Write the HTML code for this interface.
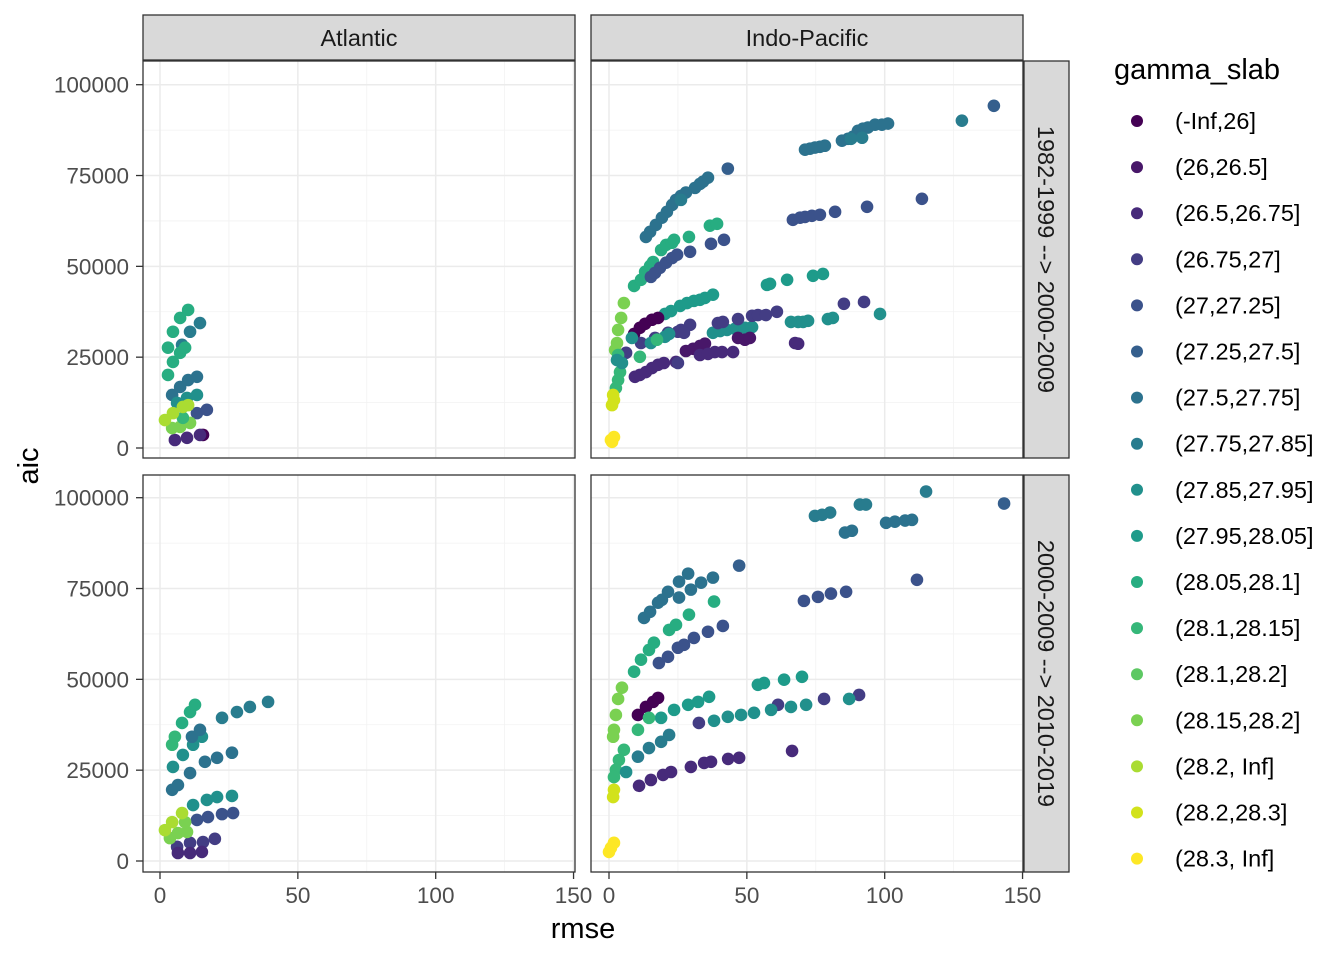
<!DOCTYPE html>
<html><head><meta charset="utf-8"><style>
body{margin:0;background:#fff;}
svg{display:block;font-family:"Liberation Sans",sans-serif;}
</style></head><body>
<svg id="chart" width="1344" height="960" viewBox="0 0 1344 960" xmlns="http://www.w3.org/2000/svg"></svg>
<script>
const levelLabels = ["(-Inf,26]","(26,26.5]","(26.5,26.75]","(26.75,27]","(27,27.25]","(27.25,27.5]","(27.5,27.75]","(27.75,27.85]","(27.85,27.95]","(27.95,28.05]","(28.05,28.1]","(28.1,28.15]","(28.1,28.2]","(28.15,28.2]","(28.2, Inf]","(28.2,28.3]","(28.3, Inf]"];
const levelColors = ["#440154","#481769","#472A7A","#433D84","#3B528B","#355F8D","#2C728E","#287C8E","#21908C","#1E9B8A","#27AD81","#35B779","#5DC863","#7AD151","#AADC32","#D2E21B","#FDE725"];
const xTicks = [0,50,100,150];
const yTicks = [0,25000,50000,75000,100000];
const colLabels = ["Atlantic","Indo-Pacific"];
const rowLabels = ["1982-1999 --> 2000-2009","2000-2009 --> 2010-2019"];
// [rmse, aic (thousands), level index]
const pointsTopLeft = [
[2.9,27.6,10],[4.7,32.0,10],[7.3,35.8,10],[10.2,38.0,10],
[8.0,28.4,7],[10.9,32.0,7],[14.5,34.4,7],
[2.9,20.1,10],[4.7,23.7,10],[7.3,26.2,10],[9.1,27.6,10],
[4.4,14.6,6],[7.3,16.8,6],[10.2,18.7,6],[13.4,19.6,6],
[6.2,12.4,8],[9.8,13.8,8],[13.4,14.6,8],
[13.4,9.6,4],[17.0,10.5,4],
[15.6,3.6,0],
[5.4,2.2,2],[9.8,2.8,2],[14.5,3.6,2],
[4.4,5.5,13],[7.3,5.8,13],[10.9,6.9,13],
[8.3,8.3,11],
[1.8,7.7,14],[4.7,9.6,14],[8.3,11.3,14],[10.2,11.8,14]
];
const pointsTopRight = [
[13.4,58.1,6],[14.9,59.5,6],[17.0,61.4,6],[19.2,63.4,6],[21.0,65.0,6],[22.9,66.9,6],[24.3,68.3,6],[26.1,69.4,6],[27.9,70.3,6],[31.2,71.6,6],[33.0,72.7,6],[34.1,73.3,6],[35.9,74.4,6],[43.1,76.9,5],[26.1,68.3,7],
[71.1,82.1,6],[72.9,82.4,6],[74.7,82.7,6],[76.5,82.9,6],[78.3,83.2,6],[84.5,84.6,6],[86.7,85.1,6],[88.5,85.7,6],[90.3,87.3,6],[92.1,87.9,6],[93.9,88.2,6],[96.5,89.0,6],[99.0,89.0,6],[101.2,89.3,6],[87.8,85.1,7],[91.8,85.4,7],[128.0,90.1,7],[139.6,94.2,5],
[9.1,44.6,10],[11.6,46.3,10],[13.1,48.5,10],[14.9,50.1,10],[16.0,51.2,10],[18.9,54.5,10],[20.7,55.9,10],[22.9,56.5,10],[23.6,57.3,10],[29.0,58.1,10],[36.6,61.2,10],[39.2,61.7,10],
[15.2,47.1,4],[16.7,48.2,4],[18.5,49.6,4],[20.7,51.0,4],[22.9,52.3,4],[24.7,53.2,4],[29.4,54.0,4],[37.0,56.2,4],[41.7,57.3,4],
[66.7,62.8,4],[69.3,63.4,4],[71.1,63.6,4],[73.6,63.9,4],[76.5,64.2,4],[82.0,65.0,4],[93.6,66.4,4],[113.5,68.6,4],
[20.3,36.9,9],[22.5,37.7,9],[25.8,39.1,9],[28.3,39.9,9],[30.8,40.5,9],[33.0,40.8,9],[34.8,41.3,9],[37.7,42.2,9],
[57.3,44.9,9],[58.4,45.2,9],[64.6,46.3,9],[74.0,47.4,9],[77.6,47.9,9],
[66.0,34.7,8],[68.6,34.7,8],[70.4,34.7,8],[72.2,35.0,8],[79.4,35.5,8],[81.2,35.8,8],[98.3,36.9,8],
[37.7,31.7,8],[40.3,32.2,8],[42.8,32.5,8],[45.7,32.8,8],[49.3,33.1,8],[51.9,33.3,8],
[39.5,34.4,3],[41.3,34.7,3],[46.8,35.5,3],[51.9,36.4,3],[54.0,36.6,3],[56.9,36.6,3],[60.9,37.5,3],[85.2,39.7,3],[92.5,40.2,3],
[67.5,28.9,2],[68.6,28.7,2],[26.1,32.5,3],[29.4,33.9,3],
[9.1,31.4,0],[11.2,33.1,0],[13.1,34.2,0],[15.6,35.3,0],[17.8,35.8,0],
[27.9,26.7,1],[30.5,27.3,1],[33.0,28.1,1],[34.8,28.7,1],[46.8,30.3,1],[49.3,29.8,1],[51.1,30.3,1],
[9.4,19.6,2],[11.2,20.1,2],[13.4,20.9,2],[15.6,22.0,2],[17.8,22.9,2],[19.9,23.4,2],[24.3,23.7,2],[33.0,25.6,2],[35.9,25.9,2],[38.4,26.4,2],[41.0,26.4,2],[45.0,26.4,2],
[6.2,26.2,3],[11.6,28.9,3],[16.7,30.3,3],[21.4,31.7,3],[25.0,32.0,3],[27.2,31.7,3],[25.0,23.4,3],
[8.3,30.3,8],[15.2,28.9,8],[20.3,30.6,8],[21.8,31.4,8],[17.4,29.8,11],[11.2,25.1,11],
[5.4,39.9,13],[4.4,35.8,13],[3.3,32.5,13],[2.9,28.9,13],[2.2,27.0,13],
[3.3,25.6,11],[4.0,20.9,11],[3.3,18.7,11],[2.5,16.5,11],[2.9,24.2,8],[4.7,23.4,8],
[1.5,14.6,15],[1.8,13.2,15],[1.1,11.8,15],
[0.7,2.2,16],[1.8,3.0,16],[1.1,1.7,16]
];
const pointsBottomLeft = [
[8.0,38.0,10],[10.9,41.0,10],[12.7,43.0,10],
[22.5,39.4,7],[27.9,41.0,7],[32.6,42.4,7],[39.2,43.8,7],
[4.4,32.0,11],[5.4,34.2,11],
[4.7,25.9,8],[8.3,29.2,8],[12.0,32.0,8],[15.2,34.2,8],
[11.6,34.2,6],[14.5,36.1,6],
[10.9,24.2,6],[16.3,27.3,6],[20.7,28.4,6],[26.1,29.8,6],
[4.4,19.6,6],[6.5,20.9,6],
[12.0,15.4,8],[17.0,16.8,8],[20.7,17.6,8],[26.1,17.9,8],
[13.4,11.3,4],[17.4,12.1,4],[22.5,12.9,4],[26.5,13.2,4],
[6.2,3.9,3],[10.9,5.0,3],[15.6,5.2,3],[19.9,6.1,3],
[6.5,2.2,2],[10.9,2.2,2],[15.2,2.5,2],
[3.6,6.3,13],[6.5,7.7,13],[9.8,8.0,13],[9.1,10.7,13],
[1.8,8.5,14],[4.4,10.7,14],[8.0,13.2,14]
];
const pointsBottomRight = [
[12.7,66.9,6],[14.9,68.6,6],[17.8,71.1,6],[19.2,71.9,6],[21.4,74.1,6],[25.4,76.9,6],[28.7,79.1,6],
[25.4,72.5,6],[29.7,74.7,6],[33.4,76.6,6],[37.7,78.0,6],[47.2,81.3,5],
[74.7,95.0,7],[77.3,95.3,7],[80.2,95.9,7],[91.0,98.1,7],[93.2,98.1,7],[85.6,90.4,6],[88.1,90.9,6],
[100.5,93.1,6],[103.7,93.4,6],[107.4,93.7,6],[109.9,93.9,6],[115.0,101.7,7],[143.3,98.4,5],
[70.7,71.6,4],[75.8,72.7,4],[80.5,73.6,4],[86.0,74.1,4],[111.7,77.4,4],
[9.1,52.1,10],[11.6,55.4,10],[14.5,58.1,10],[16.3,60.1,10],[21.8,63.6,10],[24.3,65.0,10],[29.0,67.8,10],[38.1,71.4,10],
[18.1,54.5,4],[21.4,56.2,4],[25.0,58.7,4],[27.2,59.5,4],[30.8,61.4,4],[35.9,63.1,4],[41.3,64.7,4],
[18.9,39.4,9],[23.6,41.6,9],[28.7,43.0,9],[32.3,43.8,9],[36.3,45.2,9],[54.0,48.5,9],[56.2,49.0,9],[63.5,49.9,9],[70.0,50.7,9],
[32.6,38.0,3],[61.3,43.0,3],[78.0,44.6,3],[90.7,45.7,3],
[38.1,38.6,8],[43.1,39.7,8],[47.9,40.2,8],[52.6,40.8,8],[58.8,41.6,8],[66.0,42.4,8],[71.5,43.0,8],[87.1,44.6,8],
[10.5,40.2,0],[13.4,42.4,0],[16.0,43.8,0],[17.8,44.9,0],
[10.9,20.7,2],[15.2,22.3,2],[19.6,23.7,2],[22.5,24.5,2],[29.7,25.9,2],[34.5,27.0,2],[37.0,27.3,2],[43.2,28.1,2],[47.2,28.4,2],[66.4,30.3,2],
[10.5,28.7,7],[14.5,31.1,7],[18.9,32.8,7],[21.8,34.7,7],
[4.7,47.7,13],[3.3,44.6,13],[2.5,40.2,13],[1.8,36.1,13],[1.5,34.2,13],
[5.4,30.6,11],[3.6,27.8,11],[2.5,25.1,11],[1.8,23.1,11],[6.2,24.5,8],[10.5,36.1,11],[14.5,39.4,11],
[1.8,19.6,15],[1.5,17.6,15],
[1.8,5.0,16],[0.7,3.6,16],[0.0,2.5,16]
];

const NS="http://www.w3.org/2000/svg";
const svg=document.getElementById('chart');
function mk(tag,attrs,parent){const e=document.createElementNS(NS,tag);for(const k in attrs)e.setAttribute(k,attrs[k]);(parent||svg).appendChild(e);return e;}
const colX=[[143,575],[591,1023]], rowY=[[61,458],[475,872]];
const xPx0=[160,609], yPx0=[448,861];
const xScale=(v,c)=>xPx0[c]+v*2.757;
const yScale=(v,r)=>yPx0[r]-v*0.003633;
const panels=[[pointsTopLeft,0,0,'panel-atlantic-top'],[pointsTopRight,1,0,'panel-indopacific-top'],[pointsBottomLeft,0,1,'panel-atlantic-bottom'],[pointsBottomRight,1,1,'panel-indopacific-bottom']];
panels.forEach(([pts,c,r,name])=>{
  const g=mk('g',{});
  
  
  const [x0,x1]=colX[c],[y0,y1]=rowY[r];
  mk('rect',{x:x0,y:y0,width:x1-x0,height:y1-y0,fill:'#fff'},g);
  [25,75,125].forEach(v=>mk('line',{x1:xScale(v,c),x2:xScale(v,c),y1:y0,y2:y1,stroke:'#f2f2f2','stroke-width':0.8},g));
  [12500,37500,62500,87500].forEach(v=>mk('line',{x1:x0,x2:x1,y1:yScale(v,r),y2:yScale(v,r),stroke:'#f2f2f2','stroke-width':0.8},g));
  xTicks.forEach(v=>mk('line',{x1:xScale(v,c),x2:xScale(v,c),y1:y0,y2:y1,stroke:'#ebebeb','stroke-width':1.5},g));
  yTicks.forEach(v=>mk('line',{x1:x0,x2:x1,y1:yScale(v,r),y2:yScale(v,r),stroke:'#ebebeb','stroke-width':1.5},g));
  pts.forEach(p=>{
    const d=mk('circle',{cx:xScale(p[0],c),cy:yScale(p[1]*1000,r),r:6.3,fill:levelColors[p[2]]},g);
    
    
  });
  mk('rect',{x:x0,y:y0,width:x1-x0,height:y1-y0,fill:'none',stroke:'#333','stroke-width':1.3},g);
});
// strips
colLabels.forEach((t,c)=>{
  const [x0,x1]=colX[c];
  mk('rect',{x:x0,y:15,width:x1-x0,height:45,fill:'#d9d9d9',stroke:'#333','stroke-width':1.3});
  const tx=mk('text',{x:(x0+x1)/2,y:46,'text-anchor':'middle','font-size':23.5,fill:'#1a1a1a'});
  tx.textContent=t;
  
  
});
rowLabels.forEach((t,r)=>{
  const [y0,y1]=rowY[r];
  mk('rect',{x:1024,y:y0,width:45,height:y1-y0,fill:'#d9d9d9',stroke:'#333','stroke-width':1.3});
  const cy=(y0+y1)/2;
  const tx=mk('text',{x:1038,y:cy,'text-anchor':'middle','font-size':23.5,fill:'#1a1a1a',transform:`rotate(90 1038 ${cy})`});
  tx.textContent=t;
  
  
});
// axes
[0,1].forEach(r=>{
  yTicks.forEach(v=>{
    const y=yScale(v,r);
    mk('line',{x1:136,x2:143,y1:y,y2:y,stroke:'#333','stroke-width':1.3});
    const tx=mk('text',{x:129,y:y+8,'text-anchor':'end','font-size':22.5,fill:'#4d4d4d'});
    tx.textContent=v;
    
    
  });
});
[0,1].forEach(c=>{
  xTicks.forEach(v=>{
    const x=xScale(v,c);
    mk('line',{x1:x,x2:x,y1:872,y2:879,stroke:'#333','stroke-width':1.3});
    const tx=mk('text',{x:x,y:903,'text-anchor':'middle','font-size':22.5,fill:'#4d4d4d'});
    tx.textContent=v;
    
    
  });
});
const xt=mk('text',{x:583,y:938,'text-anchor':'middle','font-size':29,fill:'#000'});
xt.textContent='rmse';


const yt=mk('text',{x:38,y:466,'text-anchor':'middle','font-size':29,fill:'#000',transform:'rotate(-90 38 466)'});
yt.textContent='aic';


// legend
const lt=mk('text',{x:1114,y:79,'font-size':29,fill:'#000'});
lt.textContent='gamma_slab';


levelLabels.forEach((l,i)=>{
  const y=121+i*46.1;
  const g=mk('g',{});
  
  
  mk('circle',{cx:1137,cy:y,r:6,fill:levelColors[i]},g);
  const tx=mk('text',{x:1175,y:y+8,'font-size':23.5,fill:'#000'},g);
  tx.textContent=l;
});
</script>
</body></html>
